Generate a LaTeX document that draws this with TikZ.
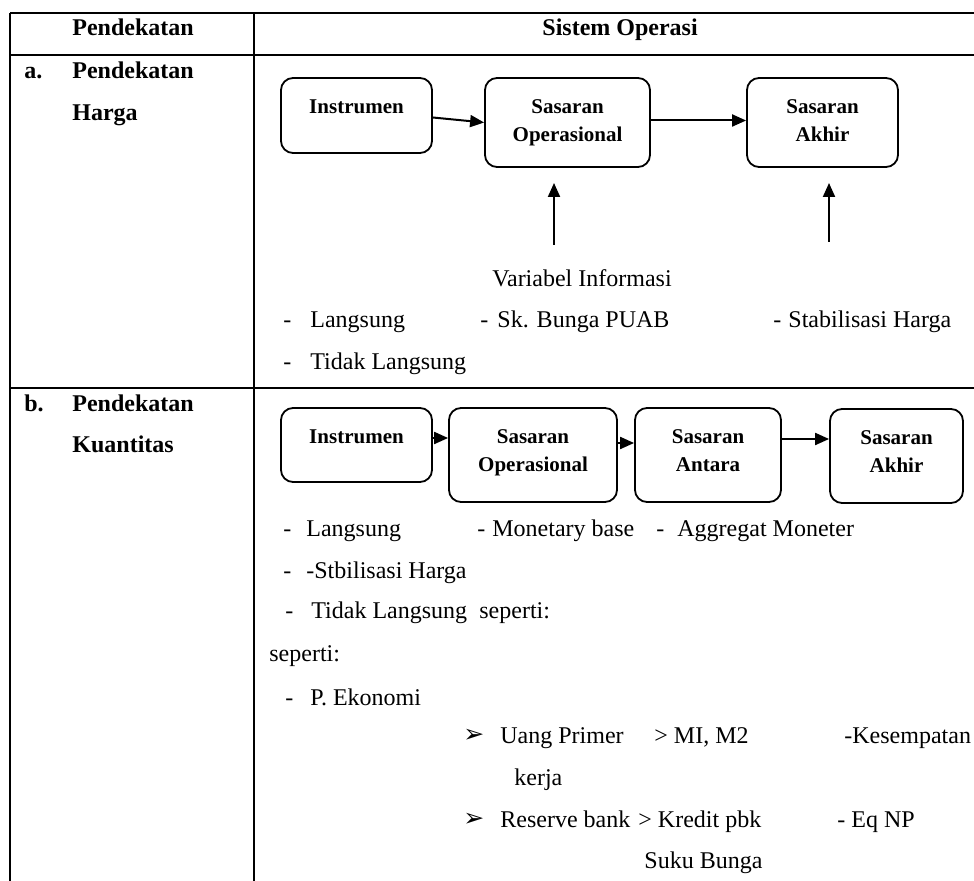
\documentclass[tikz,border=0pt]{standalone}
\usepackage{fontspec}
\setmainfont{Liberation Serif}
\newfontfamily\symfont{DejaVu Sans}
\usetikzlibrary{arrows.meta}

\begin{document}
\begin{tikzpicture}[x=0.5pt, y=-0.5pt,
  tbl/.style={line width=1pt},
  box/.style={draw, line width=0.9pt, rounded corners=6pt},
  boxtxt/.style={anchor=north, inner sep=0pt, align=center, font=\bfseries\fontsize{10.5}{14}\selectfont},
  txt/.style={anchor=base west, inner sep=0pt, font=\fontsize{12}{14}\selectfont},
  hd/.style={anchor=base west, inner sep=0pt, font=\bfseries\fontsize{12}{14}\selectfont},
  bul/.style={anchor=base west, inner sep=0pt, font=\symfont\fontsize{12.5}{14}\selectfont},
  arr/.style={line width=1pt, -{Triangle[length=7pt,width=6pt]}}]
  \useasboundingbox (0,0) rectangle (974,881);

  % Table lines
  \draw[tbl] (10,13) -- (974,13);
  \draw[tbl] (10,55) -- (974,55);
  \draw[tbl] (10,388) -- (974,388);
  \draw[tbl] (10,13) -- (10,881);
  \draw[tbl] (254,13) -- (254,881);

  % Header
  \node[hd] (hPend) at (72,36) {Pendekatan};
  \node[hd] (hSis) at (542,36) {Sistem Operasi};

  % a. Pendekatan Harga
  \node[hd] (aLbl) at (24,79) {a.};
  \node[hd] (aPend) at (72,79) {Pendekatan};
  \node[hd] (aHarga) at (72,121) {Harga};

  \node[box, minimum width=75.5pt, minimum height=37.5pt] (insA) at (356.5,115.5) {};
  \node[boxtxt] (insAt) at ([yshift=-11pt]insA.north) {Instrumen};
  \node[box, minimum width=82.5pt, minimum height=44.5pt] (soA) at (567.5,122.5) {};
  \node[boxtxt] (soAt) at ([yshift=-11pt]soA.north) {Sasaran\\Operasional};
  \node[box, minimum width=75.5pt, minimum height=44.5pt] (saA) at (822.5,122.5) {};
  \node[boxtxt] (saAt) at ([yshift=-11pt]saA.north) {Sasaran\\Akhir};

  \draw[arr] ([yshift=-1pt]insA.east) -- (soA.west);
  \draw[arr] ([yshift=1pt]soA.east) -- ([yshift=1pt]saA.west);

  \coordinate (infoA) at (554,245);
  \coordinate (tipA) at (554,183);
  \coordinate (infoB) at (829,242);
  \coordinate (tipB) at (829,183);
  \draw[arr] (infoA) -- (tipA);
  \draw[arr] (infoB) -- (tipB);

  \node[txt] (varInfo) at (492,287) {Variabel Informasi};
  \node[txt] (aD1) at (283,328) {-};
  \node[txt] (aLang) at (310,328) {Langsung};
  \node[txt] (aD2) at (480,328) {-};
  \node[txt] (aPuab) at (497,328) {Sk. Bunga PUAB};
  \node[txt] (aD3) at (773,328) {-};
  \node[txt] (aStab) at (788,328) {Stabilisasi Harga};
  \node[txt] (aD4) at (283,370) {-};
  \node[txt] (aTidak) at (310,370) {Tidak Langsung};

  % b. Pendekatan Kuantitas
  \node[hd] (bLbl) at (24,412) {b.};
  \node[hd] (bPend) at (72,412) {Pendekatan};
  \node[hd] (bKuan) at (72,453) {Kuantitas};

  \node[box, minimum width=75.5pt, minimum height=37pt] (insB) at (356.5,445) {};
  \node[boxtxt] (insBt) at ([yshift=-11pt]insB.north) {Instrumen};
  \node[box, minimum width=84pt, minimum height=47pt] (soB) at (533,455) {};
  \node[boxtxt] (soBt) at ([yshift=-11pt]soB.north) {Sasaran\\Operasional};
  \node[box, minimum width=73pt, minimum height=47pt] (antB) at (708,455) {};
  \node[boxtxt] (antBt) at ([yshift=-11pt]antB.north) {Sasaran\\Antara};
  \node[box, minimum width=66.5pt, minimum height=47pt] (akhB) at (896.5,456) {};
  \node[boxtxt] (akhBt) at ([yshift=-11pt]akhB.north) {Sasaran\\Akhir};

  \draw[arr] ([yshift=3.5pt]insB.east) -- ([yshift=8.5pt]soB.west);
  \draw[arr] ([yshift=6pt]soB.east) -- ([yshift=6pt]antB.west);
  \draw[arr] ([yshift=8pt]antB.east) -- ([yshift=8.5pt]akhB.west);

  \node[txt] (bD1) at (283,537) {-};
  \node[txt] (bLang) at (306,537) {Langsung};
  \node[txt] (bD2) at (477,537) {-};
  \node[txt] (bMon) at (492,537) {Monetary base};
  \node[txt] (bD3) at (656,537) {-};
  \node[txt] (bAgg) at (677,537) {Aggregat Moneter};
  \node[txt] (bD4) at (283,578) {-};
  \node[txt] (bStab) at (306,578) {-Stbilisasi Harga};
  \node[txt] (bD5) at (285,618) {-};
  \node[txt] (bTidak) at (311,618) {Tidak Langsung};
  \node[txt] (bSep1) at (479,618) {seperti:};
  \node[txt] (bSep2) at (269,661) {seperti:};
  \node[txt] (bD6) at (285,705) {-};
  \node[txt] (bEko) at (310,705) {P. Ekonomi};

  \node[bul] (bul1) at (463,742) {➢};
  \node[txt] (bUang) at (500,743) {Uang Primer};
  \node[txt] (bM) at (654,743) {> MI, M2};
  \node[txt] (bKes) at (844,743) {-Kesempatan};
  \node[txt] (bKerja) at (514,785) {kerja};
  \node[bul] (bul2) at (463,826) {➢};
  \node[txt] (bRes) at (500,827) {Reserve bank};
  \node[txt] (bKred) at (638,827) {> Kredit pbk};
  \node[txt] (bEq) at (837,827) {- Eq NP};
  \node[txt] (bSuku) at (644,868) {Suku Bunga};
\end{tikzpicture}
\end{document}
